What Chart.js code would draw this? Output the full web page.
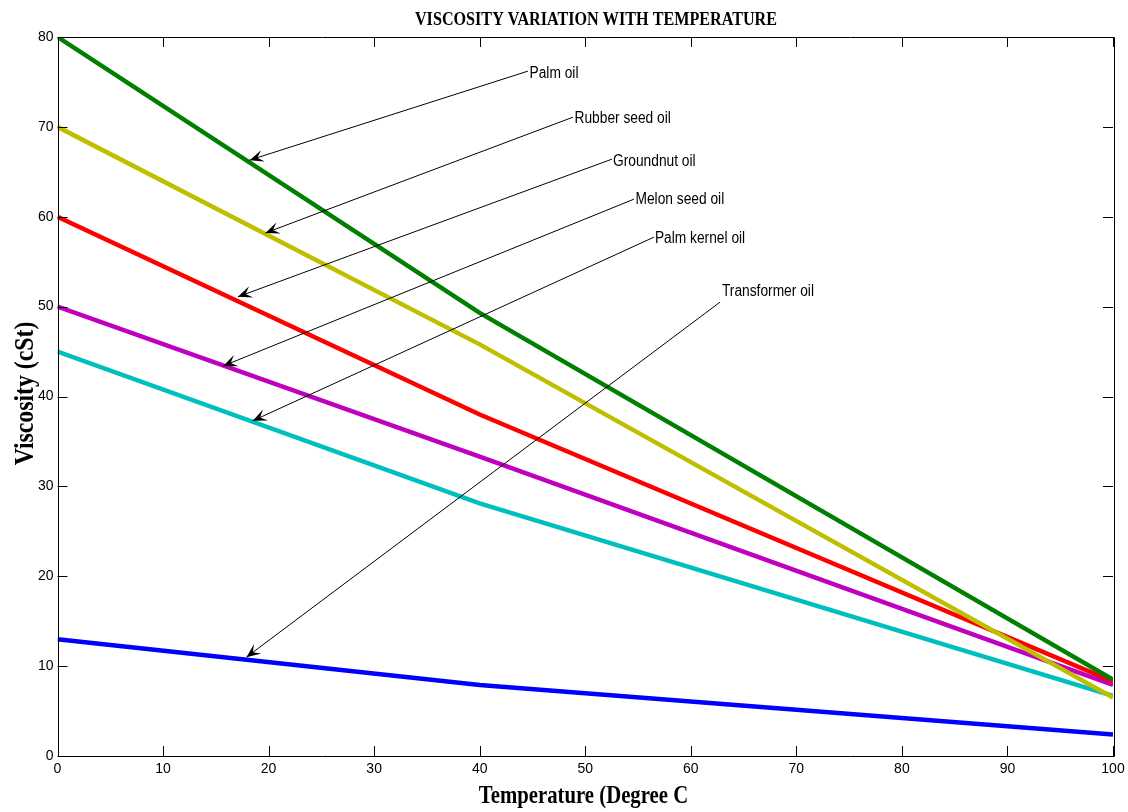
<!DOCTYPE html>
<html>
<head>
<meta charset="utf-8">
<title>Viscosity variation with temperature</title>
<script src="https://cdn.jsdelivr.net/npm/chart.js@4.4.1/dist/chart.umd.min.js"></script>
<style>
  html, body { margin: 0; padding: 0; background: #ffffff; }
  #wrap { width: 1128px; height: 812px; }
</style>
</head>
<body>
<div id="wrap"><canvas id="viscChart" width="1128" height="812"></canvas></div>
<script>
// Data
const temperature = [0, 40, 100];
const palmOil = [80, 49.3, 8.5];
const rubberSeedOil = [70, 45.8, 6.5];
const groundnutOil = [60, 38.0, 8.3];
const melonSeedOil = [50, 33.3, 7.9];
const palmKernelOil = [45, 28.1, 6.7];
const transformerOil = [13, 7.9, 2.4];

const xTicks = [0, 10, 20, 30, 40, 50, 60, 70, 80, 90, 100];
const yTicks = [0, 10, 20, 30, 40, 50, 60, 70, 80];

// arrow annotations (data units)
const noteLabels = ['Palm oil', 'Rubber seed oil', 'Groundnut oil', 'Melon seed oil', 'Palm kernel oil', 'Transformer oil'];
const noteTipX = [18.2, 19.7, 17.1, 15.7, 18.5, 17.9];
const noteTipY = [66.3, 58.2, 51.1, 43.4, 37.3, 11.0];
const noteTailX = [44.57, 48.84, 52.53, 54.62, 56.51, 62.77];
const noteTailY = [76.2, 71.08, 66.41, 61.96, 57.73, 50.5];
const noteTextX = [44.72, 48.98, 52.63, 54.76, 56.6, 62.95];
const noteTextY = [75.42, 70.41, 65.63, 61.4, 57.06, 51.17];

function pts(ys) {
  return temperature.map((t, i) => ({ x: t, y: ys[i] }));
}

const series = [
  { label: 'Rubber seed oil', data: rubberSeedOil, color: '#bfbf00' },
  { label: 'Palm oil', data: palmOil, color: '#007f00' },
  { label: 'Groundnut oil', data: groundnutOil, color: '#ff0000' },
  { label: 'Melon seed oil', data: melonSeedOil, color: '#bf00bf' },
  { label: 'Palm kernel oil', data: palmKernelOil, color: '#00bfbf' },
  { label: 'Transformer oil', data: transformerOil, color: '#0000ff' }
];

const serif = '"Liberation Serif", "Times New Roman", serif';
const sans = '"Liberation Sans", Arial, sans-serif';

// squeezed text, the original fonts are narrow
function narrowText(ctx, txt, x, y, font, sx, align, rot) {
  ctx.save();
  ctx.translate(x, y);
  if (rot) ctx.rotate(rot);
  ctx.scale(sx, 1);
  ctx.font = font;
  ctx.textAlign = align;
  ctx.textBaseline = 'alphabetic';
  ctx.fillText(txt, 0, 0);
  ctx.restore();
}

// box, inward ticks, arrows and titles, matlab style
const matlabFrame = {
  id: 'matlabFrame',
  beforeDraw(chart) {
    const ctx = chart.ctx;
    ctx.save();
    ctx.fillStyle = '#ffffff';
    ctx.fillRect(0, 0, chart.width, chart.height);
    ctx.restore();
  },
  afterDraw(chart) {
    const ctx = chart.ctx;
    const a = chart.chartArea;
    const xs = chart.scales.x, ys = chart.scales.y;
    ctx.save();
    ctx.strokeStyle = '#000000';
    ctx.fillStyle = '#000000';
    ctx.lineWidth = 1;
    ctx.beginPath();
    ctx.rect(Math.round(a.left) + 0.5, Math.round(a.top) + 0.5, Math.round(a.right - a.left), Math.round(a.bottom - a.top));
    ctx.stroke();

    const tl = 10;
    ctx.beginPath();
    xTicks.forEach(v => {
      const px = Math.round(xs.getPixelForValue(v)) + 0.5;
      ctx.moveTo(px, a.bottom); ctx.lineTo(px, a.bottom - tl);
      ctx.moveTo(px, a.top); ctx.lineTo(px, a.top + tl);
    });
    yTicks.forEach(v => {
      const py = Math.round(ys.getPixelForValue(v)) + 0.5;
      ctx.moveTo(a.left, py); ctx.lineTo(a.left + tl, py);
      ctx.moveTo(a.right, py); ctx.lineTo(a.right - tl, py);
    });
    ctx.stroke();

    // arrows with labels
    noteLabels.forEach((txt, i) => {
      const x1 = xs.getPixelForValue(noteTailX[i]), y1 = ys.getPixelForValue(noteTailY[i]);
      const x2 = xs.getPixelForValue(noteTipX[i]), y2 = ys.getPixelForValue(noteTipY[i]);
      ctx.beginPath();
      ctx.moveTo(x1, y1); ctx.lineTo(x2, y2);
      ctx.stroke();
      const ang = Math.atan2(y2 - y1, x2 - x1);
      const len = 14, half = 6, notch = 8;
      const cx = Math.cos(ang), sx = Math.sin(ang);
      ctx.beginPath();
      ctx.moveTo(x2, y2);
      ctx.lineTo(x2 - len * cx + half * sx, y2 - len * sx - half * cx);
      ctx.lineTo(x2 - notch * cx, y2 - notch * sx);
      ctx.lineTo(x2 - len * cx - half * sx, y2 - len * sx + half * cx);
      ctx.closePath();
      ctx.fill();
      narrowText(ctx, txt, xs.getPixelForValue(noteTextX[i]), ys.getPixelForValue(noteTextY[i]),
        '16px ' + sans, 0.86, 'left', 0);
    });

    // titles
    narrowText(ctx, 'VISCOSITY VARIATION WITH TEMPERATURE', 596, 25, 'bold 19px ' + serif, 0.85, 'center', 0);
    narrowText(ctx, 'Temperature (Degree C', 583.5, 803, 'bold 25px ' + serif, 0.83, 'center', 0);
    narrowText(ctx, 'Viscosity (cSt)', 33, 393.5, 'bold 27px ' + serif, 0.88, 'center', -Math.PI / 2);
    ctx.restore();
  }
};

new Chart(document.getElementById('viscChart'), {
  type: 'line',
  data: {
    datasets: series.map((s, i) => ({
      label: s.label,
      data: pts(s.data),
      borderColor: s.color,
      backgroundColor: s.color,
      borderWidth: 4.5,
      pointRadius: 0,
      tension: 0,
      fill: false,
      order: i
    }))
  },
  options: {
    responsive: false,
    animation: false,
    events: [],
    layout: { padding: { top: 37, right: 15, left: 0, bottom: 0 } },
    plugins: {
      legend: { display: false },
      tooltip: { enabled: false },
      title: { display: false }
    },
    scales: {
      x: {
        type: 'linear',
        min: 0,
        max: 100,
        afterBuildTicks(scale) { scale.ticks = xTicks.map(v => ({ value: v })); },
        afterFit(scale) {
          scale.height = 56;
          scale.paddingLeft = 0;
          scale.paddingRight = 0;
        },
        grid: { display: false, drawTicks: false },
        border: { display: false },
        ticks: {
          padding: 5,
          maxRotation: 0,
          color: '#000000',
          font: { family: sans, size: 14 }
        }
      },
      y: {
        type: 'linear',
        min: 0,
        max: 80,
        afterBuildTicks(scale) { scale.ticks = yTicks.map(v => ({ value: v })); },
        afterFit(scale) { scale.width = 57.5; },
        grid: { display: false, drawTicks: false },
        border: { display: false },
        ticks: {
          padding: 4,
          color: '#000000',
          font: { family: sans, size: 14 }
        }
      }
    }
  },
  plugins: [matlabFrame]
});
</script>
</body>
</html>
